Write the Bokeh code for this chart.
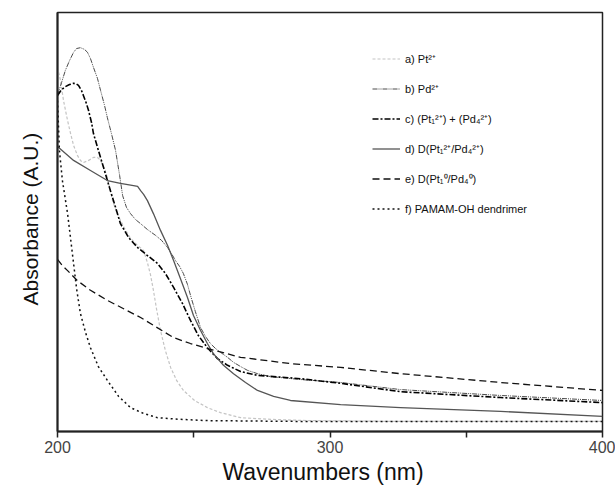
from bokeh.plotting import figure
from bokeh.models import FixedTicker, Legend, LegendItem, Title
from bokeh.embed import file_html
from bokeh.resources import INLINE

# a) Pt2+
a_x = [200, 201.1, 202.2, 203.7, 204.8, 205.9, 207.3, 208.4, 209.5, 211.4, 213.2, 214.7, 215.8, 217.2, 218.3, 219.4, 220.2, 221.7, 223.1, 225.0, 226.8, 229.4, 231.6, 233.0, 234.1, 235.2, 236.3, 237.8, 239.6, 241.5, 243.7, 246.2, 250.3, 255.0, 259.8, 267.2, 278.2, 291.7, 325.9, 400]
a_y = [0.869, 0.838, 0.790, 0.742, 0.711, 0.683, 0.659, 0.647, 0.642, 0.647, 0.654, 0.654, 0.647, 0.628, 0.606, 0.575, 0.551, 0.523, 0.504, 0.480, 0.461, 0.444, 0.432, 0.403, 0.375, 0.337, 0.294, 0.241, 0.193, 0.153, 0.122, 0.098, 0.074, 0.057, 0.045, 0.033, 0.029, 0.026, 0.024, 0.024]
# b) Pd2+
b_x = [200, 201.5, 202.9, 204.4, 205.9, 207.0, 208.4, 209.9, 211.0, 212.1, 213.2, 214.7, 215.8, 217.2, 218.3, 219.8, 221.3, 222.8, 223.9, 225.3, 226.8, 228.6, 230.5, 233.0, 236.0, 238.2, 240.4, 241.8, 243.3, 244.8, 246.2, 247.7, 248.8, 250.6, 252.5, 254.3, 256.1, 258.0, 259.8, 262.4, 264.6, 267.2, 269.7, 273.4, 278.2, 289.2, 303.9, 325.9, 362.6, 400]
b_y = [0.802, 0.833, 0.862, 0.885, 0.905, 0.914, 0.916, 0.912, 0.905, 0.890, 0.869, 0.842, 0.814, 0.780, 0.749, 0.711, 0.671, 0.611, 0.563, 0.535, 0.520, 0.506, 0.496, 0.482, 0.468, 0.456, 0.439, 0.425, 0.408, 0.394, 0.377, 0.351, 0.325, 0.286, 0.248, 0.227, 0.210, 0.198, 0.189, 0.177, 0.165, 0.155, 0.146, 0.138, 0.131, 0.124, 0.117, 0.100, 0.086, 0.074]
# c) (Pt1 2+) + (Pd4 2+)
c_x = [200, 201.5, 202.9, 204.4, 205.9, 207.0, 207.7, 208.8, 209.5, 210.6, 211.4, 212.5, 213.2, 215.0, 216.9, 219.4, 221.3, 223.1, 226.1, 229.4, 233.0, 236.7, 239.6, 242.6, 245.9, 248.8, 251.7, 255.0, 258.7, 262.4, 267.2, 273.4, 289.2, 303.9, 325.9, 362.6, 400]
c_y = [0.802, 0.816, 0.823, 0.828, 0.831, 0.829, 0.826, 0.814, 0.802, 0.783, 0.766, 0.737, 0.711, 0.671, 0.630, 0.575, 0.535, 0.496, 0.463, 0.439, 0.420, 0.401, 0.377, 0.344, 0.305, 0.265, 0.229, 0.200, 0.174, 0.158, 0.143, 0.134, 0.126, 0.115, 0.095, 0.081, 0.069]
# d) D(Pt1 2+/Pd4 2+)
d_x = [200, 205.9, 212.1, 218.3, 223.1, 227.9, 229.4, 230.5, 231.6, 233.0, 235.2, 237.8, 240.4, 242.6, 245.1, 247.7, 249.9, 252.5, 255.0, 257.2, 260.9, 264.6, 269.0, 273.4, 279.3, 285.5, 303.9, 325.9, 362.6, 400]
d_y = [0.680, 0.647, 0.623, 0.599, 0.592, 0.587, 0.585, 0.575, 0.566, 0.551, 0.520, 0.480, 0.444, 0.408, 0.365, 0.320, 0.277, 0.241, 0.210, 0.186, 0.158, 0.138, 0.117, 0.098, 0.084, 0.074, 0.064, 0.057, 0.048, 0.036]
# e) D(Pt1 0/Pd4 0)
e_x = [200, 201.8, 203.7, 207.3, 212.1, 218.3, 230.5, 242.6, 248.8, 255.0, 267.2, 285.5, 303.9, 325.9, 362.6, 400]
e_y = [0.411, 0.396, 0.384, 0.360, 0.337, 0.313, 0.272, 0.224, 0.210, 0.198, 0.177, 0.162, 0.153, 0.138, 0.117, 0.098]
# f) PAMAM-OH dendrimer
f_x = [200, 200.7, 201.8, 203.7, 205.9, 207.0, 208.4, 210.3, 212.1, 215.0, 218.3, 222.4, 226.8, 231.6, 236.7, 245.1, 255.0, 289.2, 400]
f_y = [0.790, 0.671, 0.599, 0.520, 0.401, 0.341, 0.282, 0.236, 0.200, 0.155, 0.122, 0.084, 0.057, 0.043, 0.033, 0.029, 0.026, 0.024, 0.024]

labels = ["a) Pt²⁺", "b) Pd²⁺", "c) (Pt₁²⁺) + (Pd₄²⁺)", "d) D(Pt₁²⁺/Pd₄²⁺)",
          "e) D(Pt₁⁰/Pd₄⁰)", "f) PAMAM-OH dendrimer"]
x_ticks = [200, 300, 400]
x_minor = [250, 350]
x_title = "Wavenumbers (nm)"
y_title = "Absorbance (A.U.)"

FONT = "Liberation Sans"

p = figure(width=615, height=487, output_backend="svg", toolbar_location=None,
           x_range=(200, 400), y_range=(0, 1.0),
           min_border_left=57, min_border_right=13, min_border_top=12, min_border_bottom=56)
p.grid.visible = False
p.outline_line_color = "#222222"
p.outline_line_width = 1.5
p.background_fill_color = "white"
p.border_fill_color = "white"

series = [
    (a_x, a_y, dict(line_color="#c4c4c4", line_width=1.2, line_dash="3 2")),
    (b_x, b_y, dict(line_color="#4a4a4a", line_width=1.0, line_dash="5 1 1 1 1 1")),
    (c_x, c_y, dict(line_color="black", line_width=1.6, line_dash="6 2 2 2")),
    (d_x, d_y, dict(line_color="#555555", line_width=1.3)),
    (e_x, e_y, dict(line_color="#111111", line_width=1.3, line_dash="7 4")),
    (f_x, f_y, dict(line_color="#111111", line_width=1.5, line_dash="2 3")),
]
items = []
for (xs, ys, style), lab in zip(series, labels):
    r = p.line(xs, ys, line_join="round", **style)
    items.append(LegendItem(label=lab, renderers=[r]))

legend = Legend(items=items, location=(315, 212), padding=0, margin=0,
                spacing=9, label_height=21, glyph_height=21, glyph_width=28,
                label_standoff=5, label_text_font=FONT, label_text_font_size="11px",
                label_text_color="#111111",
                border_line_alpha=0, background_fill_alpha=0)
p.add_layout(legend, "center")

xa = p.xaxis[0]
xa.ticker = FixedTicker(ticks=x_ticks, minor_ticks=x_minor)
xa.major_label_text_font = FONT
xa.major_label_text_font_size = "16px"
xa.major_label_standoff = 3
xa.major_tick_out = 6
xa.major_tick_in = 0
xa.minor_tick_out = 6
xa.minor_tick_in = 0
xa.axis_line_width = 2
xa.axis_line_color = "#222222"
xa.major_tick_line_width = 1.5
xa.minor_tick_line_width = 1.5
xa.major_tick_line_color = "#222222"
xa.minor_tick_line_color = "#222222"

ya = p.yaxis[0]
ya.ticker = FixedTicker(ticks=[])
ya.major_tick_out = 0
ya.major_tick_in = 0
ya.minor_tick_out = 0
ya.minor_tick_in = 0
ya.axis_line_width = 2
ya.axis_line_color = "#222222"
# invisible spacer label so that the y title sits further left, as in the original
ya.axis_label = " "
ya.axis_label_text_font_size = "1px"
ya.axis_label_standoff = 9

# axis titles, placed slightly off-centre as in the original figure
p.add_layout(Title(text=x_title, align="left", offset=165, standoff=2,
                   text_font=FONT, text_font_size="23px", text_font_style="normal",
                   text_color="#111111"), "below")
p.add_layout(Title(text=y_title, align="left", offset=126, standoff=6,
                   text_font=FONT, text_font_size="21px", text_font_style="normal",
                   text_color="#111111"), "left")

open("out.html", "w").write(file_html(p, INLINE))
